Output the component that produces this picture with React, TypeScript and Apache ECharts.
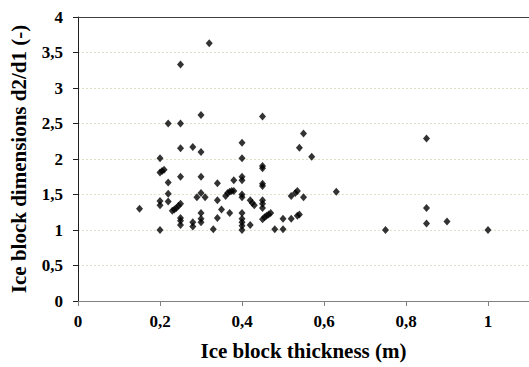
import React, { useEffect, useRef } from "react";
import * as echarts from "echarts";

// Ice block thickness (m) and the matching d2/d1 ratio, one entry per measured block
const thickness: number[] = [
  0.15,
  0.2, 0.2, 0.2, 0.2, 0.2,
  0.205, 0.21,
  0.22, 0.22, 0.22, 0.22,
  0.23, 0.235, 0.24, 0.245,
  0.25, 0.25, 0.25, 0.25, 0.25, 0.25, 0.25, 0.25,
  0.28, 0.28, 0.28,
  0.29,
  0.3, 0.3, 0.3, 0.3, 0.3, 0.3, 0.3,
  0.31, 0.32, 0.33,
  0.34, 0.34, 0.34,
  0.35, 0.36, 0.365,
  0.37, 0.37,
  0.375,
  0.38, 0.38,
  0.4, 0.4, 0.4, 0.4, 0.4, 0.4, 0.4, 0.4, 0.4, 0.4, 0.4,
  0.42, 0.42, 0.425, 0.43,
  0.45, 0.45, 0.45, 0.45, 0.45, 0.45, 0.45, 0.45, 0.45,
  0.455, 0.46, 0.465, 0.47, 0.48,
  0.5, 0.5,
  0.52, 0.52, 0.53, 0.535, 0.535,
  0.54, 0.54,
  0.55, 0.55,
  0.57, 0.63, 0.75,
  0.85, 0.85, 0.85,
  0.9, 1.0,
];

const ratio: number[] = [
  1.3,
  2.01, 1.81, 1.41, 1.35, 1.0,
  1.83, 1.85,
  2.5, 1.67, 1.51, 1.4,
  1.27, 1.29, 1.31, 1.34,
  3.33, 2.5, 2.15, 1.75, 1.37, 1.17, 1.13, 1.07,
  2.17, 1.11, 1.05,
  1.46,
  2.62, 2.1, 1.75, 1.52, 1.24, 1.16, 1.11,
  1.46, 3.63, 1.01,
  1.66, 1.42, 1.17,
  1.29, 1.48, 1.52,
  1.54, 1.24,
  1.55,
  1.55, 1.7,
  2.23, 2.01, 1.75, 1.7, 1.5, 1.46, 1.24, 1.16, 1.11, 1.06, 1.0,
  1.42, 1.07, 1.38, 1.35,
  2.6, 1.9, 1.87, 1.65, 1.62, 1.42, 1.37, 1.31, 1.15,
  1.18, 1.2, 1.22, 1.24, 1.01,
  1.16, 1.01,
  1.48, 1.16, 1.52, 1.55, 1.2,
  2.16, 1.22,
  2.36, 1.46,
  2.03, 1.54, 1.0,
  2.29, 1.31, 1.09,
  1.12, 1.0,
];

const xTitle = "Ice block thickness (m)";
const yTitle = "Ice block dimensions d2/d1 (-)";

const fontFamily = "'Liberation Serif', 'Times New Roman', serif";

// decimal comma, as in the axis tick labels
const commaLabel = (v: number) => String(Number(v.toFixed(2))).replace(".", ",");

export default function App() {
  const ref = useRef<HTMLDivElement>(null);

  useEffect(() => {
    if (!ref.current) return;
    const chart = echarts.init(ref.current, null, { renderer: "svg" });
    const points = thickness.map((x, i) => [x, ratio[i]]);

    chart.setOption({
      animation: false,
      backgroundColor: "#ffffff",
      grid: { left: 77, top: 17, width: 454, height: 284 },
      xAxis: [
        {
          type: "value",
          min: 0,
          max: 1.1,
          interval: 0.2,
          name: xTitle,
          nameLocation: "middle",
          nameGap: 39,
          nameTextStyle: { fontFamily, fontWeight: "bold", fontSize: 21, color: "#000" },
          axisLine: { show: true, lineStyle: { color: "#808080", width: 1 } },
          axisTick: { show: true, inside: false, length: 5, lineStyle: { color: "#808080" } },
          axisLabel: {
            formatter: commaLabel,
            showMaxLabel: false,
            margin: 12,
            fontFamily,
            fontWeight: "bold",
            fontSize: 17,
            color: "#000",
          },
          splitLine: { show: false },
        },
        {
          type: "value",
          position: "top",
          min: 0,
          max: 1.1,
          axisLine: { show: true, onZero: false, lineStyle: { color: "#404040", width: 1 } },
          axisTick: { show: false },
          axisLabel: { show: false },
          splitLine: { show: false },
        },
      ],
      yAxis: {
        type: "value",
        min: 0,
        max: 4,
        interval: 0.5,
        name: yTitle,
        nameLocation: "middle",
        nameGap: 49,
        nameTextStyle: { fontFamily, fontWeight: "bold", fontSize: 21, color: "#000" },
        axisLine: { show: true, lineStyle: { color: "#202020", width: 1 } },
        axisTick: { show: true, inside: false, length: 5, lineStyle: { color: "#202020" } },
        axisLabel: {
          formatter: commaLabel,
          margin: 15,
          fontFamily,
          fontWeight: "bold",
          fontSize: 17,
          color: "#000",
        },
        splitLine: {
          show: true,
          lineStyle: { color: "#e2dfc6", type: [2, 2], width: 1 },
        },
      },
      series: [
        {
          type: "scatter",
          xAxisIndex: 0,
          data: points,
          symbol: "diamond",
          symbolSize: [7, 8],
          itemStyle: { color: "#000" },
        },
      ],
    });

    return () => chart.dispose();
  }, []);

  return (
    <div
      ref={ref}
      style={{ position: "fixed", left: 0, top: 0, width: 529, height: 367, overflow: "hidden" }}
    />
  );
}
